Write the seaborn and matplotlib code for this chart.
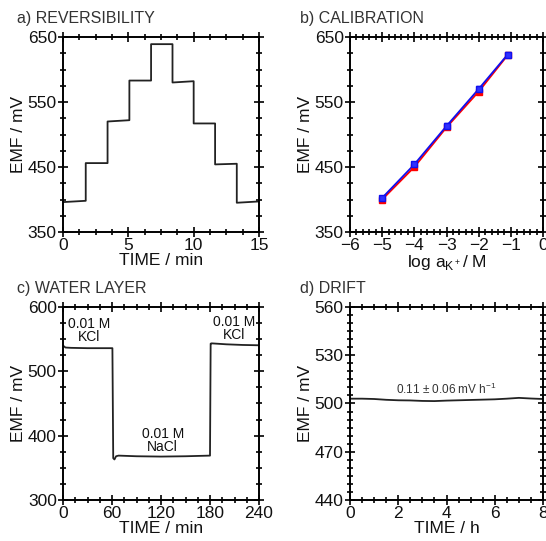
import numpy as np
import pandas as pd
import seaborn as sns
import matplotlib.pyplot as plt
from matplotlib.ticker import MultipleLocator

# a) reversibility: step edges (min) and level at start / end of each step (mV)
rev_edges = [0, 1.74, 3.41, 5.08, 6.74, 8.38, 10.0, 11.64, 13.3, 15]
rev_start = [396, 456, 520, 583, 639, 580, 517, 454, 395]
rev_end = [398, 456, 522, 583, 639, 582, 517, 455, 397]

# b) calibration
log_a = [-5, -4, -3, -2, -1.1]
emf_red = [400, 450, 511, 566, 622]
emf_blue = [402.5, 454, 513, 570, 623]
err_red = [3, 3, 3, 3, 3]
err_blue = [3, 3, 4, 4, 4]

# c) water layer test
wl_time = [0, 3, 10, 30, 60.5, 61.5, 63, 65, 68, 90, 120, 150, 180, 180.8, 182, 200, 220, 240]
wl_emf = [540, 537, 536.5, 536, 536, 365, 363, 368, 369, 368, 367.5, 368, 369, 543, 543.5, 542, 541, 540.5]

# d) drift
dr_time = [0, 0.5, 1, 1.5, 2, 2.5, 3, 3.5, 4, 4.5, 5, 5.5, 6, 6.5, 7, 7.5, 8]
dr_emf = [503, 503, 502.8, 502.3, 502, 501.9, 501.6, 501.5, 501.8, 502, 502.2, 502.4, 502.6, 503, 503.5, 503.1, 502.8]

sns.set_theme(style="ticks")
plt.rcParams['font.family'] = ['Liberation Sans', 'DejaVu Sans']
plt.rcParams['axes.linewidth'] = 1.4
plt.rcParams['text.color'] = '#111111'
plt.rcParams['axes.labelcolor'] = '#111111'
plt.rcParams['xtick.labelcolor'] = '#111111'
plt.rcParams['ytick.labelcolor'] = '#111111'

W, H = 546, 541
fig = plt.figure(figsize=(W / 100, H / 100), dpi=100)


def make_ax(l, t, r, b):
    return fig.add_axes([l / W, 1 - b / H, (r - l) / W, (b - t) / H])


def style_ax(ax, xmaj, xmin, ymaj, ymin, yoff=0):
    ax.xaxis.set_major_locator(MultipleLocator(xmaj))
    ax.xaxis.set_minor_locator(MultipleLocator(xmin))
    ax.yaxis.set_major_locator(MultipleLocator(ymaj, offset=yoff))
    ax.yaxis.set_minor_locator(MultipleLocator(ymin))
    ax.tick_params(which='both', direction='inout', top=True, right=True,
                   labeltop=False, labelright=False, color='black', width=1.2)
    ax.tick_params(which='major', length=7, labelsize=12.5, pad=1)
    ax.tick_params(which='minor', length=4)
    for s in ax.spines.values():
        s.set_color('black')
    ax.set_ylabel('EMF / mV', fontsize=12.5, labelpad=1)


def title(x, y, txt):
    fig.text(x / W, 1 - y / H, txt, fontsize=11.5, color='#333333', va='center', ha='left')


# a) reversibility
xs, ys = [], []
for i in range(len(rev_start)):
    xs += [rev_edges[i], rev_edges[i + 1]]
    ys += [rev_start[i], rev_end[i]]
df_a = pd.DataFrame({'t': xs, 'emf': ys})
ax = make_ax(63, 37, 259, 232)
sns.lineplot(data=df_a, x='t', y='emf', sort=False, estimator=None, color='#222222', lw=1.3, ax=ax)
ax.set_xlim(0, 15)
ax.set_ylim(350, 650)
style_ax(ax, 5, 1.25, 100, 25, yoff=50)
ax.set_xlabel('TIME / min', fontsize=12.5, labelpad=0)
title(17, 19, 'a) REVERSIBILITY')

# b) calibration
ax = make_ax(350, 37, 543, 232)
df_b = pd.DataFrame({'x': log_a, 'red': emf_red, 'blue': emf_blue})
sns.lineplot(data=df_b, x='x', y='red', estimator=None, color='red', lw=1.3, ax=ax)
ax.errorbar(log_a, emf_red, yerr=err_red, fmt='s', ms=5, color='red', capsize=2, lw=1)
sns.lineplot(data=df_b, x='x', y='blue', estimator=None, color='#1010ee', lw=1.3, ax=ax)
ax.errorbar(log_a, emf_blue, yerr=err_blue, fmt='s', ms=5, color='#1010ee',
            mfc='#3030ff', capsize=2, lw=1)
ax.set_xlim(-6, 0)
ax.set_ylim(350, 650)
style_ax(ax, 1, 0.2, 100, 25, yoff=50)
ax.set_xlabel('log a$_{\\mathregular{K^+}}$/ M', fontsize=12.5, labelpad=0)
title(300, 19, 'b) CALIBRATION')

# c) water layer
ax = make_ax(63, 307, 259, 500)
df_c = pd.DataFrame({'t': wl_time, 'emf': wl_emf})
sns.lineplot(data=df_c, x='t', y='emf', sort=False, estimator=None, color='#222222', lw=1.3, ax=ax)
ax.set_xlim(0, 240)
ax.set_ylim(300, 600)
style_ax(ax, 60, 15, 100, 25)
ax.set_xlabel('TIME / min', fontsize=12.5, labelpad=0)
ax.text(32, 543, '0.01 M\nKCl', ha='center', va='bottom', fontsize=10, linespacing=0.85)
ax.text(210, 546, '0.01 M\nKCl', ha='center', va='bottom', fontsize=10, linespacing=0.85)
ax.text(122, 372, '0.01 M\nNaCl', ha='center', va='bottom', fontsize=10, linespacing=0.85)
title(17, 288, 'c) WATER LAYER')

# d) drift
ax = make_ax(350, 307, 543, 500)
df_d = pd.DataFrame({'t': dr_time, 'emf': dr_emf})
sns.lineplot(data=df_d, x='t', y='emf', estimator=None, color='#222222', lw=1.3, ax=ax)
ax.set_xlim(0, 8)
ax.set_ylim(440, 560)
style_ax(ax, 2, 0.5, 30, 5, yoff=20)
ax.set_xlabel('TIME / h', fontsize=12.5, labelpad=0)
ax.text(4.0, 504, '0.11 ± 0.06 mV h$^{\\mathregular{-1}}$', ha='center', va='bottom',
        fontsize=8.5, color='#333333')
title(300, 288, 'd) DRIFT')

fig.savefig('out.png', dpi=100)
